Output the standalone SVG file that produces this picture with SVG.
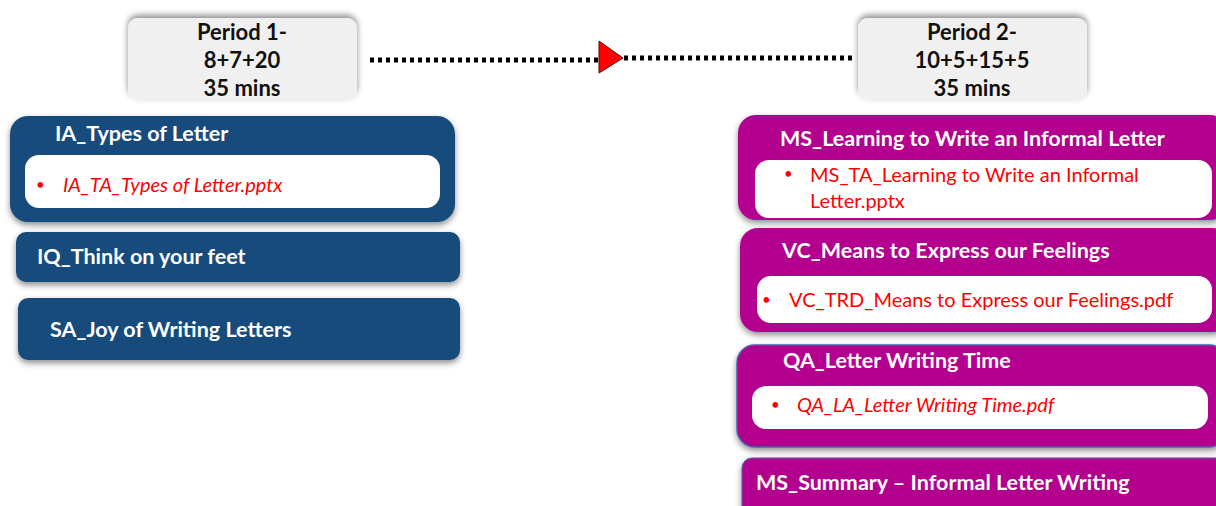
<svg xmlns="http://www.w3.org/2000/svg" width="1216" height="506" viewBox="0 0 1216 506">
<defs>
<filter id="sh" x="-10%" y="-20%" width="120%" height="150%">
<feDropShadow dx="0" dy="3" stdDeviation="3" flood-color="#000" flood-opacity="0.45"/>
</filter>
<filter id="shu" x="-10%" y="-20%" width="120%" height="150%">
<feDropShadow dx="0" dy="-3" stdDeviation="3" flood-color="#000" flood-opacity="0.45"/>
</filter>
</defs>
<style>
.per{fill:#f0f0f0;filter:url(#shu)}
.pt{font-family:Lato,"Liberation Sans",sans-serif;font-weight:bold;font-size:22px;fill:#111;text-anchor:middle}
.blue{fill:#194b7b;filter:url(#sh)}
.mag{fill:#b3008f;filter:url(#sh)}
.inner{fill:#fff}
.tt{font-family:Lato,"Liberation Sans",sans-serif;font-weight:bold;font-size:21.5px;fill:#fff}
.rt{font-family:Lato,"Liberation Sans",sans-serif;font-size:20px;fill:#ff0000}
.bl{font-family:Lato,"Liberation Sans",sans-serif;font-size:15px;fill:#ff0000}
.it{font-style:italic}
.dot{stroke:#000;stroke-width:5;stroke-dasharray:4 4;fill:none}
</style>
<g id="connectors">
<line class="dot" x1="370" y1="60" x2="600" y2="60"/>
<line class="dot" x1="624" y1="58" x2="852" y2="58"/>
<polygon points="599,41 623,58 599,73" fill="#ff0000" stroke="#600" stroke-width="1"/>
</g>
<g id="period1">
<rect class="per" x="128" y="18" width="229" height="82" rx="10"/>
<text class="pt" x="242" y="40">Period 1-</text>
<text class="pt" x="242" y="68">8+7+20</text>
<text class="pt" x="242" y="96">35 mins</text>
</g>
<g id="period2">
<rect class="per" x="858" y="18" width="229" height="82" rx="10"/>
<text class="pt" x="972" y="40">Period 2-</text>
<text class="pt" x="972" y="68">10+5+15+5</text>
<text class="pt" x="972" y="96">35 mins</text>
</g>
<g id="ia">
<rect class="blue" x="10" y="116" width="445" height="106" rx="18"/>
<text class="tt" x="55" y="141">IA_Types of Letter</text>
<rect class="inner" x="25" y="155" width="415" height="53" rx="14"/>
<text class="bl" x="36" y="190">•</text>
<text class="rt it" x="63" y="192">IA_TA_Types of Letter.pptx</text>
</g>
<g id="iq">
<rect class="blue" x="16" y="232" width="444" height="50" rx="10"/>
<text class="tt" x="37" y="264">IQ_Think on your feet</text>
</g>
<g id="sa">
<rect class="blue" x="18" y="298" width="442" height="62" rx="10"/>
<text class="tt" x="50" y="337">SA_Joy of Writing Letters</text>
</g>
<g id="ms1">
<rect class="mag" x="738" y="115" width="490" height="105" rx="18"/>
<text class="tt" x="780" y="146">MS_Learning to Write an Informal Letter</text>
<rect class="inner" x="755" y="160" width="457" height="58" rx="14"/>
<text class="bl" x="784" y="179">•</text>
<text class="rt" x="810" y="182">MS_TA_Learning to Write an Informal</text>
<text class="rt" x="810" y="208">Letter.pptx</text>
</g>
<g id="vc">
<rect class="mag" x="740" y="228" width="490" height="104" rx="18"/>
<text class="tt" x="782" y="258">VC_Means to Express our Feelings</text>
<rect class="inner" x="757" y="276" width="455" height="47" rx="14"/>
<text class="bl" x="762" y="305">•</text>
<text class="rt" x="789" y="307">VC_TRD_Means to Express our Feelings.pdf</text>
</g>
<g id="qa">
<rect class="mag" x="737" y="345" width="490" height="102" rx="18" stroke="#4a5fa8" stroke-width="1.5"/>
<text class="tt" x="783" y="368">QA_Letter Writing Time</text>
<rect class="inner" x="752" y="386" width="456" height="43" rx="14"/>
<text class="bl" x="771" y="410">•</text>
<text class="rt it" x="797" y="412">QA_LA_Letter Writing Time.pdf</text>
</g>
<g id="summary">
<rect class="mag" x="742" y="458" width="490" height="60" rx="10" stroke="#4a5fa8" stroke-width="1"/>
<text class="tt" x="756" y="490">MS_Summary – Informal Letter Writing</text>
</g>
</svg>
